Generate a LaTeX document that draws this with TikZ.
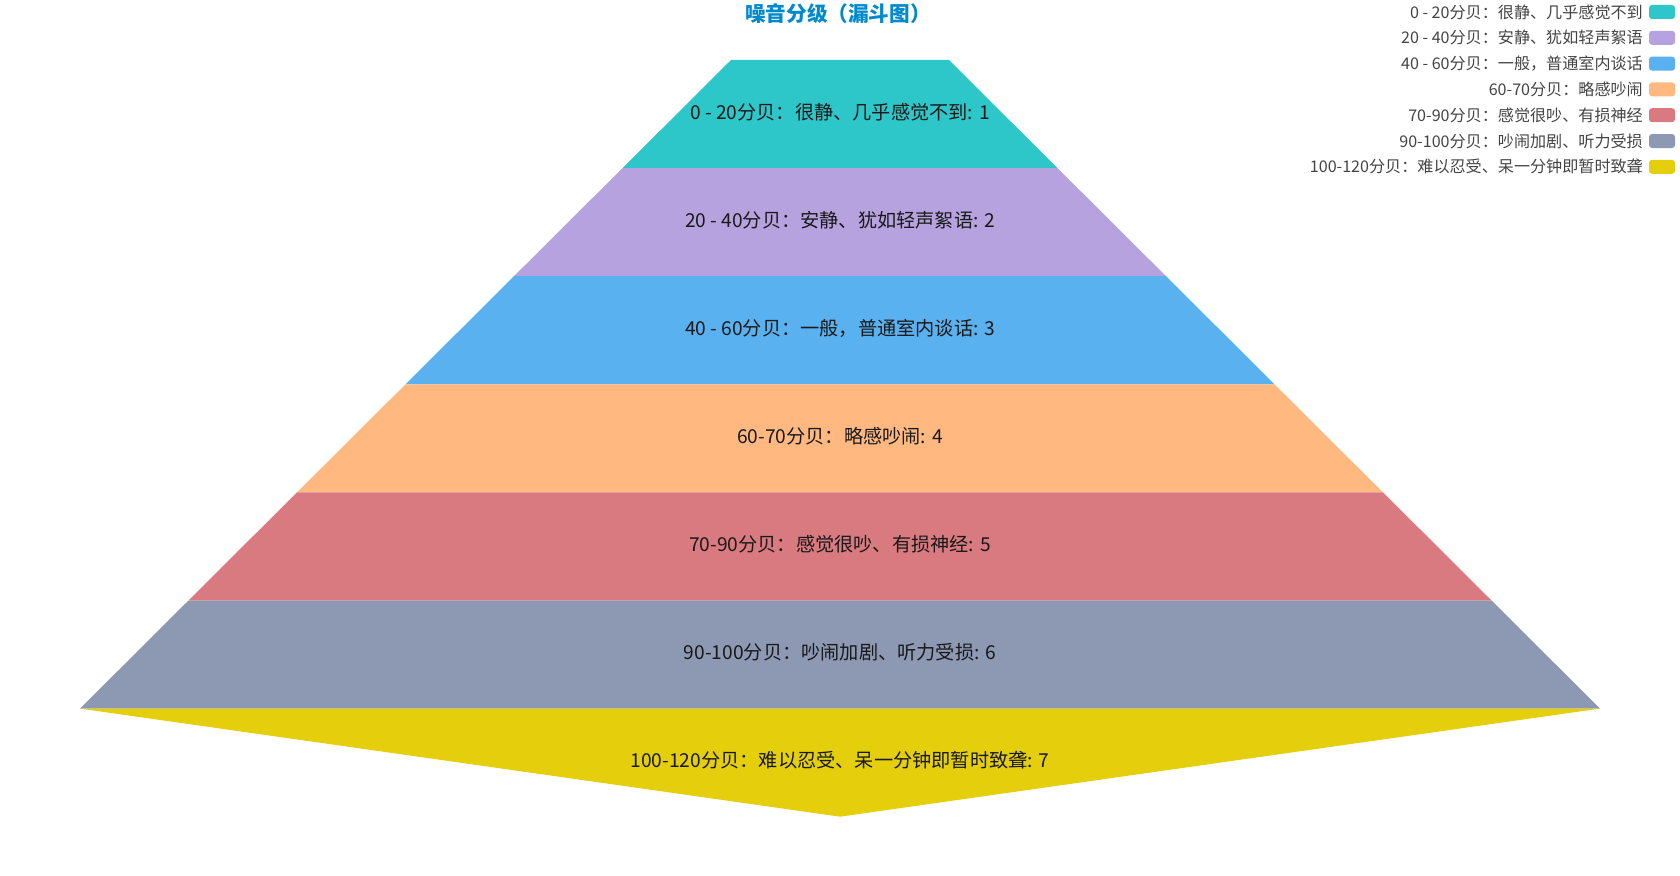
\documentclass[tikz,border=0pt]{standalone}
\usepackage{fontspec}
\setmainfont{Noto Sans CJK SC}
\definecolor{cA}{HTML}{2EC7C9}
\definecolor{cB}{HTML}{B6A2DE}
\definecolor{cC}{HTML}{5AB1EF}
\definecolor{cD}{HTML}{FFB980}
\definecolor{cE}{HTML}{D87A80}
\definecolor{cF}{HTML}{8D98B3}
\definecolor{cG}{HTML}{E5CF0D}
\definecolor{titlecol}{HTML}{008ACD}
\definecolor{legtext}{HTML}{444444}
\tikzset{
  lbl/.style={font=\fontsize{19.2}{21}\selectfont, text=black!90, inner sep=0pt},
  legtxt/.style={font=\fontsize{16.1}{18}\selectfont, text=legtext, anchor=east, inner sep=0pt},
  swatch/.style={rounded corners=3pt},
}
\begin{document}
\begin{tikzpicture}[x=1pt,y=-1pt]
\useasboundingbox (0,0) rectangle (1680,875);
% funnel layers: center x = 840, height 108, half-widths 109 + 108.5k
\def\cx{840}
\def\hh{108.1}
\foreach \k/\c in {0/cA,1/cB,2/cC,3/cD,4/cE,5/cF}{
  \pgfmathsetmacro{\yt}{60+\hh*\k}
  \pgfmathsetmacro{\yb}{60+\hh*(\k+1)}
  \pgfmathsetmacro{\wt}{109+108.5*\k}
  \pgfmathsetmacro{\wb}{109+108.5*(\k+1)}
  \fill[\c] (\cx-\wt,\yt) -- (\cx+\wt,\yt) -- (\cx+\wb,\yb) -- (\cx-\wb,\yb) -- cycle;
}
\fill[cG] (80,60+6*\hh) -- (1600,60+6*\hh) -- (840,60+7*\hh) -- cycle;
% labels
\node[lbl] (l1) at (840,112) {0 - 20分贝：很静、几乎感觉不到: 1};
\node[lbl] (l2) at (840,220) {20 - 40分贝：安静、犹如轻声絮语: 2};
\node[lbl] (l3) at (840,328) {40 - 60分贝：一般，普通室内谈话: 3};
\node[lbl] (l4) at (840,436) {60-70分贝：略感吵闹: 4};
\node[lbl] (l5) at (840,544) {70-90分贝：感觉很吵、有损神经: 5};
\node[lbl] (l6) at (840,652) {90-100分贝：吵闹加剧、听力受损: 6};
\node[lbl] (l7) at (840,760) {100-120分贝：难以忍受、呆一分钟即暂时致聋: 7};
% title
\node[font=\fontsize{20.6}{22}\selectfont\bfseries, text=titlecol, inner sep=0pt] (title) at (838,14) {噪音分级（漏斗图）};
% legend
\foreach \i/\c/\t in {0/cA/{0 - 20分贝：很静、几乎感觉不到},
                      1/cB/{20 - 40分贝：安静、犹如轻声絮语},
                      2/cC/{40 - 60分贝：一般，普通室内谈话},
                      3/cD/{60-70分贝：略感吵闹},
                      4/cE/{70-90分贝：感觉很吵、有损神经},
                      5/cF/{90-100分贝：吵闹加剧、听力受损},
                      6/cG/{100-120分贝：难以忍受、呆一分钟即暂时致聋}}{
  \pgfmathsetmacro{\ly}{12+25.8*\i}
  \fill[\c, swatch] (1649,\ly-7) rectangle (1675,\ly+7);
  \node[legtxt] (leg\i) at (1643,\ly) {\t};
}
\end{tikzpicture}
\end{document}
